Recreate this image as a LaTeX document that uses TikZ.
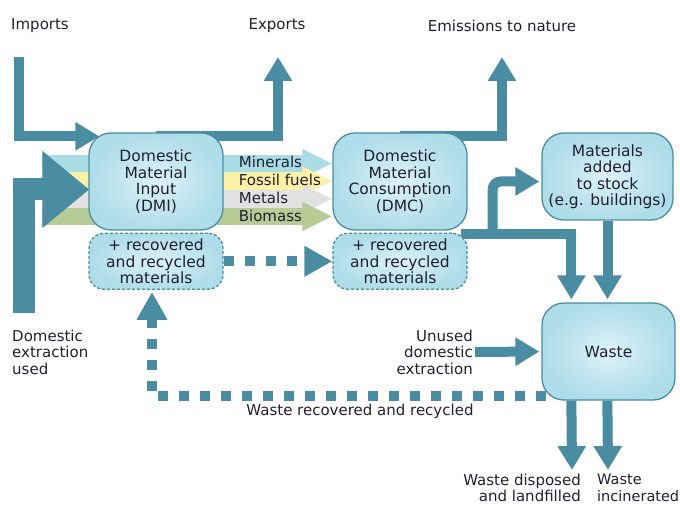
\documentclass[tikz,border=0pt]{standalone}
\usepackage{fontspec}
\setmainfont{DejaVu Sans}
\usetikzlibrary{positioning,arrows.meta,calc,backgrounds}

\definecolor{flowteal}{HTML}{4A8DA3}
\definecolor{boxblue}{HTML}{AEDCE8}
\definecolor{boxglow}{HTML}{DDF2F8}
\definecolor{mineralcol}{HTML}{A9DCE5}
\definecolor{fossilcol}{HTML}{FBF1A6}
\definecolor{metalcol}{HTML}{E2E2E2}
\definecolor{biomasscol}{HTML}{B6CB96}
\definecolor{inkcol}{HTML}{202032}

\begin{document}
\begin{tikzpicture}[
        x=1pt, y=-1pt,
        every node/.style={font=\fontsize{15}{16.5}\selectfont, text=inkcol},
        account/.style={draw=flowteal, line width=1.3pt, rounded corners=22pt, inner color=boxglow, outer color=boxblue, minimum width=134pt, minimum height=97pt, align=center, inner sep=0pt, font=\fontsize{15.5}{16.5}\selectfont},
        recycled/.style={account, dash pattern=on 3pt off 2pt, rounded corners=15pt, minimum height=56pt},
        caption/.style={align=left, inner sep=0pt},
        flow/.style={draw=flowteal, line width=10pt, -{Triangle[width=27pt,length=24pt]}},
        bigflow/.style={draw=flowteal, line width=22pt, -{Triangle[width=74pt,length=47pt]}},
        dotflow/.style={draw=flowteal, line width=10pt, dash pattern=on 10pt off 11pt, -{Triangle[width=29pt,length=28pt]}},
        band/.style={line width=17.5pt, -{Triangle[width=27pt,length=30pt]}}
    ]
        \useasboundingbox (0,0) rectangle (680,505);

        % accounts
        \node[account] (dmi) at (156,181.5) {Domestic\\Material\\Input\\(DMI)};
        \node[recycled, below=2pt of dmi] (dmirec) {+ recovered\\and recycled\\materials};
        \node[account] (dmc) at (400,181.5) {Domestic\\Material\\Consumption\\(DMC)};
        \node[recycled, below=2pt of dmc] (dmcrec) {+ recovered\\and recycled\\materials};
        \node[account, minimum width=131pt, minimum height=87pt] (stock) at (607.5,176.5) {Materials\\added\\to stock\\(e.g. buildings)};
        \node[account, minimum width=133pt] (waste) at (608.5,351.5) {Waste};

        % outer labels
        \node[caption, anchor=west] (imports) at (11,26) {Imports};
        \node[caption] (exports) at (277,26) {Exports};
        \node[caption] (emissions) at (502,26) {Emissions to nature};
        \node[caption, anchor=west] (deu) at (12,352) {Domestic\\extraction\\used};
        \node[caption, anchor=east, align=right] (unused) at (473,352) {Unused\\domestic\\extraction};
        \node[caption] (wrec) at (360,411) {Waste recovered and recycled};
        \node[caption, anchor=east, align=right] (disposed) at (581,488) {Waste disposed\\and landfilled};
        \node[caption, anchor=west, font=\fontsize{14.5}{16.5}\selectfont] (incin) at (597,488) {Waste\\incinerated};

        \coordinate (impstart) at (19,57);
        \coordinate (exptip) at (278,57);
        \coordinate (emitip) at (502,57);
        \coordinate (deustart) at (24,313);
        \coordinate (disptip) at (572,470);
        \coordinate (incitip) at (608,470);

        \begin{pgfonlayer}{background}
            \foreach \bandcol/\dy in {mineralcol/-18, fossilcol/-0.5, metalcol/17.5, biomasscol/35}
                \draw[band, draw=\bandcol] ($(dmi.west)+(-46,\dy)$) -- ($(dmc.west)+(0,\dy)$);
            \draw[bigflow] (deustart) |- ($(dmi.west)+(1,8)$);
            \draw[flow] (impstart) |- ($(dmi.north west)+(11,4)$);
            \draw[flow] ($(dmi.north)+(0,4)$) -| (exptip);
            \draw[flow] ($(dmc.north)+(0,4)$) -| (emitip);
            \draw[flow] ($(dmc.south east)+(-7,3)$) -| ($(waste.north west)+(30,-3)$);
            \draw[flow, rounded corners=8pt] ($(dmc.south east)+(25,3)$) |- ($(stock.west)+(-2,5)$);
        \end{pgfonlayer}

        \foreach \bandtxt/\dy [count=\i] in {Minerals/-19.5, Fossil fuels/-1.5, Metals/16.5, Biomass/34.5}
            \node[caption, anchor=west] (band\i) at ($(dmi.east)+(15,\dy)$) {\bandtxt};

        \draw[flow, shorten >=3pt] (stock.south) -- (stock.south |- waste.north);
        \draw[flow, shorten <=2pt, shorten >=2pt] (unused.east) -- (waste.west);
        \draw[flow] ($(waste.south west)+(30,0)$) -- (disptip);
        \draw[flow] ($(waste.south west)+(66,0)$) -- (incitip);

        \draw[dotflow] (dmirec.east) -- (dmcrec.west);
        \draw[dotflow] ($(waste.south west)+(5,-5)$) -| ($(dmirec.south)+(-4,2)$);
    \end{tikzpicture}
\end{document}
